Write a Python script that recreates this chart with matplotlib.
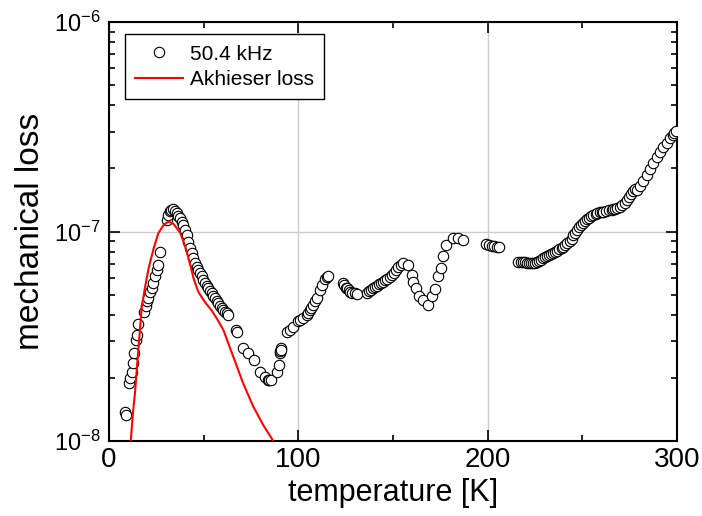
import numpy as np
import matplotlib
matplotlib.use("Agg")
import matplotlib.pyplot as plt
from matplotlib.ticker import LogLocator, MultipleLocator, NullFormatter

plt.rcParams['font.family'] = ['Liberation Sans', 'DejaVu Sans']
plt.rcParams['mathtext.default'] = 'regular'

################################################################################
# data (loss in units of 1e-8)
temp_meas = [8.4, 8.8, 10.7, 11.3, 12.0, 12.5, 13.2, 14.3, 14.6, 15.2, 18.5, 19.5, 20.3, 20.8,
             21.7, 22.5, 23.4, 24.3, 25.2, 25.7, 27.0, 30.5, 31.3, 32.2, 33.0, 34.0,
             35.0, 35.7, 36.6, 37.5, 38.4, 39.2, 40.1, 41.0, 41.9, 42.8, 43.7, 44.6, 45.4,
             46.3, 47.1, 48.0, 48.9, 49.8, 50.7, 51.5, 52.4, 53.3, 54.2, 55.1, 56.0, 56.9,
             57.7, 58.6, 59.5, 60.4, 61.3, 62.2, 63.0,
             66.9, 67.6, 70.9, 73.6, 76.4, 79.8, 82.4, 84.0, 84.7, 85.3, 88.6, 89.7, 90.3,
             90.5, 90.6, 90.8, 93.9, 95.5, 97.4, 100.0,
             100.9, 102.5, 104.4, 105.2, 106.0, 106.8, 107.9, 109.0, 109.7, 111.4, 112.5,
             114.1, 115.0, 115.8,
             123.8, 124.2, 125.0, 125.5, 126.5, 127.5, 128.5, 129.9, 131.0, 136.1, 137.5,
             138.5, 139.5, 140.5, 141.5, 142.5, 143.5, 144.9, 146.0, 147.0, 148.2, 149.3,
             150.5, 151.8, 152.8, 154.2, 155.5, 158.1,
             159.9, 160.7, 162.2, 163.9, 165.6, 168.6, 170.4, 172.2, 173.9, 175.2, 176.6,
             177.9, 181.8, 184.5, 186.8,
             199.1, 200.5, 202.1, 203.5, 205.1, 205.8,
             216.2, 217.5, 218.5, 219.7, 221.0, 222.0, 223.0, 224.1, 225.0, 226.0, 227.0,
             228.0, 229.4, 230.5, 231.5, 232.5, 233.5, 234.7, 235.7, 236.7, 237.8, 239.0,
             240.0, 241.0, 242.0, 243.3, 244.3, 245.3, 246.3, 247.4, 248.4, 249.5, 250.5,
             251.5, 252.5, 253.5, 254.5, 255.8, 257.0, 258.0, 259.3, 260.3, 261.1, 262.5,
             264.0, 265.5, 266.4, 267.5, 268.5, 269.9, 271.0, 272.3, 273.4, 274.5, 275.6,
             276.9, 278.0, 278.7, 280.4, 282.2, 284.0, 285.8, 287.5, 289.3, 291.0, 292.7,
             294.5, 296.3, 297.7, 298.6, 299.5]
loss_meas = [1.38, 1.33, 1.90, 2.00, 2.14, 2.37, 2.64, 3.05, 3.20, 3.63, 4.15, 4.41, 4.65, 4.80,
             5.16, 5.40, 5.66, 6.10, 6.55, 6.92, 8.02, 11.35, 12.0, 12.5, 12.7, 12.8,
             12.5, 12.2, 11.9, 11.56, 11.1, 10.74, 10.16, 9.62, 8.93, 8.32, 7.87, 7.45, 7.05,
             6.80, 6.55, 6.32, 6.10, 5.88, 5.66, 5.50, 5.36, 5.21, 5.07, 4.93, 4.80, 4.67,
             4.54, 4.42, 4.30, 4.22, 4.14, 4.07, 4.00,
             3.39, 3.30, 2.77, 2.62, 2.44, 2.14, 2.03, 1.96, 1.95, 1.95, 2.14, 2.31, 2.62,
             2.70, 2.77, 2.72, 3.33, 3.40, 3.52, 3.72,
             3.78, 3.88, 4.00, 4.10, 4.20, 4.30, 4.46, 4.65, 4.80, 5.26, 5.55,
             5.92, 6.05, 6.14,
             5.66, 5.55, 5.40, 5.36, 5.25, 5.15, 5.10, 5.07, 5.05, 5.11, 5.20,
             5.28, 5.36, 5.46, 5.52, 5.60, 5.66, 5.75, 5.85, 5.95, 6.05, 6.19,
             6.35, 6.55, 6.79, 6.95, 7.05, 6.92,
             6.19, 5.75, 5.36, 4.92, 4.71, 4.46, 4.92, 5.30, 6.10, 6.67, 7.64,
             8.63, 9.27, 9.27, 9.12,
             8.71, 8.62, 8.53, 8.50, 8.47, 8.45,
             7.18, 7.15, 7.13, 7.13, 7.10, 7.08, 7.06, 7.05, 7.08, 7.15, 7.22,
             7.30, 7.45, 7.55, 7.62, 7.70, 7.78, 7.87, 7.98, 8.10, 8.22, 8.35,
             8.47, 8.62, 8.80, 9.00, 9.25, 9.62, 9.85, 10.15, 10.45, 10.70, 10.94,
             11.20, 11.45, 11.65, 11.85, 12.0, 12.15, 12.25, 12.35, 12.40, 12.45, 12.55,
             12.65, 12.72, 12.76, 12.85, 12.95, 13.15, 13.40, 13.75, 14.16, 14.6, 15.1,
             15.6, 16.0, 15.8, 16.4, 17.5, 18.6, 19.8, 21.2, 22.6, 24.0, 25.2,
             26.5, 28.0, 29.0, 29.6, 30.2]

temp_akh = [11.0, 11.6, 12.6, 13.7, 15.0, 16.4, 17.2, 19.0, 20.8, 23.4, 26.0, 28.7, 31.3,
            34.0, 37.5, 40.1, 42.8, 44.6, 47.1, 50.7, 54.2, 56.9, 60.4, 65.6, 70.9, 76.2,
            81.5, 85.9, 87.5]
loss_akh = [0.93, 1.03, 1.35, 1.69, 2.40, 3.45, 4.3, 5.4, 6.6, 8.2, 9.8, 10.7, 11.15,
            10.9, 9.9, 8.6, 7.0, 6.0, 5.16, 4.6, 4.2, 3.85, 3.39, 2.53, 1.88, 1.46,
            1.19, 1.03, 0.97]

################################################################################
fig = plt.figure(figsize=(7.02, 5.16), dpi=100)
ax = fig.add_axes([0.1553, 0.1453, 0.8091, 0.8121])

ax.plot(temp_meas, np.array(loss_meas) * 1e-8, 'o', ms=7.5, mfc='white', mec='black',
        mew=0.8, label='50.4 kHz', zorder=3)
ax.plot(temp_akh, np.array(loss_akh) * 1e-8, '-', color='red', lw=1.5,
        label='Akhieser loss', zorder=4)

ax.set_yscale('log')
ax.set_xlim(0, 300)
ax.set_ylim(1e-8, 1e-6)
ax.xaxis.set_major_locator(MultipleLocator(100))
ax.xaxis.set_minor_locator(MultipleLocator(50))
ax.yaxis.set_major_locator(LogLocator(base=10, numticks=5))
ax.yaxis.set_minor_locator(LogLocator(base=10, subs=np.arange(2, 10), numticks=20))
ax.yaxis.set_minor_formatter(NullFormatter())

ax.grid(True, which='major', color='#cccccc', lw=1.0, zorder=0)
ax.tick_params(which='both', direction='in', top=True, right=True, width=1.2)
ax.tick_params(which='major', length=8)
ax.tick_params(which='minor', length=4)
ax.tick_params(axis='x', which='major', labelsize=20, pad=4)
ax.tick_params(axis='y', which='major', labelsize=17, pad=6)
for s in ax.spines.values():
    s.set_linewidth(1.5)

ax.set_xlabel('temperature [K]', fontsize=22, labelpad=4)
ax.set_ylabel('mechanical loss', fontsize=24, labelpad=6)

leg = ax.legend(loc='upper left', bbox_to_anchor=(0.028, 0.971), borderaxespad=0,
                fontsize=15, frameon=True, fancybox=False, framealpha=1, edgecolor='black',
                handlelength=2.3, handletextpad=0.3, borderpad=0.5, labelspacing=0.3)
leg.get_frame().set_linewidth(1.0)

plt.savefig('out.png', dpi=100)
